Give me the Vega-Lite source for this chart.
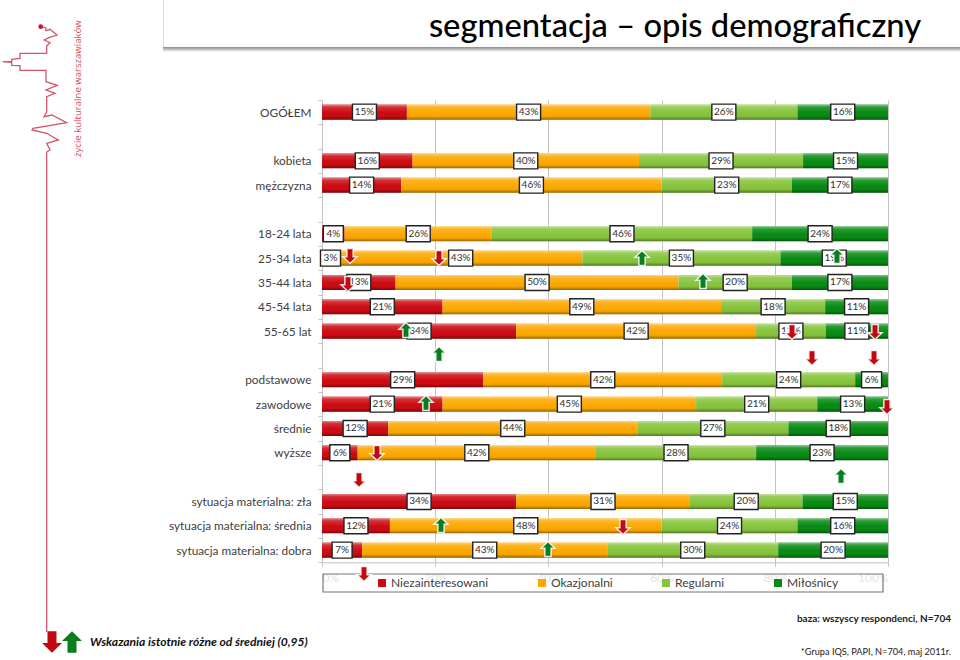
{
"$schema":"https://vega.github.io/schema/vega-lite/v6.json",
"width":566,"height":462.3,"autosize":"none",
"padding":{"left":322,"top":100,"right":72,"bottom":97.7},
"background":"white",
"config":{"view":{"stroke":null},"font":"Lato"},
"datasets":{
"bars":[
{"row":"OGÓŁEM","cat":"Niezainteresowani","rank":1,"value":15,"label":"15%"},{"row":"OGÓŁEM","cat":"Okazjonalni","rank":2,"value":43,"label":"43%"},{"row":"OGÓŁEM","cat":"Regularni","rank":3,"value":26,"label":"26%"},{"row":"OGÓŁEM","cat":"Miłośnicy","rank":4,"value":16,"label":"16%"},
{"row":"kobieta","cat":"Niezainteresowani","rank":1,"value":16,"label":"16%"},{"row":"kobieta","cat":"Okazjonalni","rank":2,"value":40,"label":"40%"},{"row":"kobieta","cat":"Regularni","rank":3,"value":29,"label":"29%"},{"row":"kobieta","cat":"Miłośnicy","rank":4,"value":15,"label":"15%"},
{"row":"mężczyzna","cat":"Niezainteresowani","rank":1,"value":14,"label":"14%"},{"row":"mężczyzna","cat":"Okazjonalni","rank":2,"value":46,"label":"46%"},{"row":"mężczyzna","cat":"Regularni","rank":3,"value":23,"label":"23%"},{"row":"mężczyzna","cat":"Miłośnicy","rank":4,"value":17,"label":"17%"},
{"row":"18-24 lata","cat":"Niezainteresowani","rank":1,"value":4,"label":"4%"},{"row":"18-24 lata","cat":"Okazjonalni","rank":2,"value":26,"label":"26%"},{"row":"18-24 lata","cat":"Regularni","rank":3,"value":46,"label":"46%"},{"row":"18-24 lata","cat":"Miłośnicy","rank":4,"value":24,"label":"24%"},
{"row":"25-34 lata","cat":"Niezainteresowani","rank":1,"value":3,"label":"3%"},{"row":"25-34 lata","cat":"Okazjonalni","rank":2,"value":43,"label":"43%"},{"row":"25-34 lata","cat":"Regularni","rank":3,"value":35,"label":"35%"},{"row":"25-34 lata","cat":"Miłośnicy","rank":4,"value":19,"label":"19%"},
{"row":"35-44 lata","cat":"Niezainteresowani","rank":1,"value":13,"label":"13%"},{"row":"35-44 lata","cat":"Okazjonalni","rank":2,"value":50,"label":"50%"},{"row":"35-44 lata","cat":"Regularni","rank":3,"value":20,"label":"20%"},{"row":"35-44 lata","cat":"Miłośnicy","rank":4,"value":17,"label":"17%"},
{"row":"45-54 lata","cat":"Niezainteresowani","rank":1,"value":21.3,"label":"21%"},{"row":"45-54 lata","cat":"Okazjonalni","rank":2,"value":49.2,"label":"49%"},{"row":"45-54 lata","cat":"Regularni","rank":3,"value":18.4,"label":"18%"},{"row":"45-54 lata","cat":"Miłośnicy","rank":4,"value":11.1,"label":"11%"},
{"row":"55-65 lat","cat":"Niezainteresowani","rank":1,"value":34.3,"label":"34%"},{"row":"55-65 lat","cat":"Okazjonalni","rank":2,"value":42.4,"label":"42%"},{"row":"55-65 lat","cat":"Regularni","rank":3,"value":12.3,"label":"12%"},{"row":"55-65 lat","cat":"Miłośnicy","rank":4,"value":11,"label":"11%"},
{"row":"podstawowe","cat":"Niezainteresowani","rank":1,"value":28.5,"label":"29%"},{"row":"podstawowe","cat":"Okazjonalni","rank":2,"value":42.2,"label":"42%"},{"row":"podstawowe","cat":"Regularni","rank":3,"value":23.5,"label":"24%"},{"row":"podstawowe","cat":"Miłośnicy","rank":4,"value":5.8,"label":"6%"},
{"row":"zawodowe","cat":"Niezainteresowani","rank":1,"value":21.3,"label":"21%"},{"row":"zawodowe","cat":"Okazjonalni","rank":2,"value":44.8,"label":"45%"},{"row":"zawodowe","cat":"Regularni","rank":3,"value":21.4,"label":"21%"},{"row":"zawodowe","cat":"Miłośnicy","rank":4,"value":12.5,"label":"13%"},
{"row":"średnie","cat":"Niezainteresowani","rank":1,"value":11.7,"label":"12%"},{"row":"średnie","cat":"Okazjonalni","rank":2,"value":44,"label":"44%"},{"row":"średnie","cat":"Regularni","rank":3,"value":26.7,"label":"27%"},{"row":"średnie","cat":"Miłośnicy","rank":4,"value":17.6,"label":"18%"},
{"row":"wyższe","cat":"Niezainteresowani","rank":1,"value":6.3,"label":"6%"},{"row":"wyższe","cat":"Okazjonalni","rank":2,"value":42.1,"label":"42%"},{"row":"wyższe","cat":"Regularni","rank":3,"value":28.3,"label":"28%"},{"row":"wyższe","cat":"Miłośnicy","rank":4,"value":23.3,"label":"23%"},
{"row":"sytuacja materialna: zła","cat":"Niezainteresowani","rank":1,"value":34.3,"label":"34%"},{"row":"sytuacja materialna: zła","cat":"Okazjonalni","rank":2,"value":30.7,"label":"31%"},{"row":"sytuacja materialna: zła","cat":"Regularni","rank":3,"value":19.9,"label":"20%"},{"row":"sytuacja materialna: zła","cat":"Miłośnicy","rank":4,"value":15.1,"label":"15%"},
{"row":"sytuacja materialna: średnia","cat":"Niezainteresowani","rank":1,"value":12,"label":"12%"},{"row":"sytuacja materialna: średnia","cat":"Okazjonalni","rank":2,"value":48,"label":"48%"},{"row":"sytuacja materialna: średnia","cat":"Regularni","rank":3,"value":24,"label":"24%"},{"row":"sytuacja materialna: średnia","cat":"Miłośnicy","rank":4,"value":16,"label":"16%"},
{"row":"sytuacja materialna: dobra","cat":"Niezainteresowani","rank":1,"value":7.1,"label":"7%"},{"row":"sytuacja materialna: dobra","cat":"Okazjonalni","rank":2,"value":43.3,"label":"43%"},{"row":"sytuacja materialna: dobra","cat":"Regularni","rank":3,"value":30.2,"label":"30%"},{"row":"sytuacja materialna: dobra","cat":"Miłośnicy","rank":4,"value":19.4,"label":"20%"}
],
"smallDown":[{"px":350,"py":256},{"px":439,"py":258},{"px":348,"py":284},{"px":792,"py":332},{"px":875,"py":332},{"px":812,"py":358},{"px":874,"py":358},{"px":887,"py":407},{"px":377,"py":453},{"px":359,"py":480},{"px":623,"py":527},{"px":364,"py":574}],
"smallUp":[{"px":642,"py":258},{"px":837,"py":256},{"px":703,"py":281},{"px":406,"py":330},{"px":439,"py":354},{"px":426,"py":403},{"px":841,"py":476},{"px":441,"py":525},{"px":548,"py":549}],
"logo":[{"i":1,"px":40.7,"py":26.7},{"i":2,"px":45.7,"py":27.7},{"i":3,"px":46,"py":30.7},{"i":4,"px":50,"py":29.3},{"i":5,"px":57,"py":35},{"i":6,"px":49,"py":37.7},{"i":7,"px":44.3,"py":40},{"i":8,"px":50,"py":42.7},{"i":9,"px":46.7,"py":46},{"i":10,"px":46.7,"py":53.3},{"i":11,"px":20,"py":53.3},{"i":12,"px":20,"py":58.3},{"i":13,"px":11.7,"py":59.3},{"i":14,"px":11.7,"py":61.7},{"i":15,"px":2.7,"py":61.7},{"i":16,"px":11.7,"py":62.3},{"i":17,"px":11.7,"py":65.3},{"i":18,"px":20,"py":65.7},{"i":19,"px":20,"py":70.3},{"i":20,"px":46,"py":70.3},{"i":21,"px":46,"py":81.7},{"i":22,"px":57.3,"py":85.3},{"i":23,"px":46,"py":90},{"i":24,"px":55,"py":93.3},{"i":25,"px":46.7,"py":96.7},{"i":26,"px":46.7,"py":112},{"i":27,"px":44,"py":116.7},{"i":28,"px":52,"py":115},{"i":29,"px":66.7,"py":122.7},{"i":30,"px":33,"py":128.3},{"i":31,"px":32,"py":130},{"i":32,"px":46.7,"py":133.3},{"i":33,"px":58.3,"py":140},{"i":34,"px":46.7,"py":143.3},{"i":35,"px":50,"py":150},{"i":36,"px":46.7,"py":152},{"i":37,"px":46.7,"py":632}]
},
"layer":[
{"data":{"name":"bars"},
 "encoding":{
  "x":{"field":"value","type":"quantitative","stack":"zero","scale":{"domain":[0,100],"nice":false},
   "axis":{"title":null,"values":[0,20,40,60,80,100],"labelExpr":"datum.value+'%'","labelColor":"#e4e4e4","labelFontSize":12,"labelPadding":6,"grid":true,"gridColor":"#c4c4c4","domainColor":"#c4c4c4","tickColor":"#c4c4c4","tickSize":4}},
  "y":{"field":"row","type":"nominal","scale":{"paddingInner":0,"paddingOuter":0,"domain":["OGÓŁEM"," ","kobieta","mężczyzna","  ","18-24 lata","25-34 lata","35-44 lata","45-54 lata","55-65 lat","   ","podstawowe","zawodowe","średnie","wyższe","    ","sytuacja materialna: zła","sytuacja materialna: średnia","sytuacja materialna: dobra"]},
   "axis":{"title":null,"labelFontSize":11.8,"labelColor":"#404040","labelPadding":7,"tickBand":"extent","tickSize":4,"tickColor":"#c4c4c4","domainColor":"#c4c4c4","labelLimit":200}},
  "order":{"field":"rank"}
 },
 "layer":[
  {"mark":{"type":"bar","height":{"band":0.62}},
   "encoding":{"color":{"field":"cat","type":"nominal","scale":{"domain":["Niezainteresowani","Okazjonalni","Regularni","Miłośnicy"],"range":["#cc0a12","#fca800","#86c43c","#078a12"]},
    "legend":{"title":null,"orient":"none","legendX":54,"legendY":477,"direction":"horizontal","columns":4,"columnPadding":47,"symbolType":"square","symbolSize":64,"labelFontSize":12,"labelColor":"#404040","labelOffset":3,"symbolStrokeWidth":0,"padding":0}}}},
  {"mark":{"type":"bar","height":{"band":0.62},"fill":{"gradient":"linear","x1":0,"y1":0,"x2":0,"y2":1,"stops":[{"offset":0,"color":"rgba(255,255,255,0.5)"},{"offset":0.18,"color":"rgba(255,255,255,0.15)"},{"offset":0.55,"color":"rgba(255,255,255,0)"},{"offset":0.8,"color":"rgba(0,0,0,0.05)"},{"offset":1,"color":"rgba(0,0,0,0.4)"}]}},
   "encoding":{"detail":{"field":"cat"}}},
  {"mark":{"type":"point","filled":true,"fill":"white","stroke":"#222222","strokeWidth":1.4,"opacity":1,"size":400},
   "encoding":{"x":{"field":"value","type":"quantitative","stack":"zero","bandPosition":0.5},"detail":{"field":"cat"},
    "shape":{"condition":{"test":"datum.value<9.5","value":"M-1,-0.8H1V0.8H-1Z"},"value":"M-1.2,-0.8H1.2V0.8H-1.2Z"}}},
  {"mark":{"type":"text","fontSize":10,"color":"#303030"},
   "encoding":{"x":{"field":"value","type":"quantitative","stack":"zero","bandPosition":0.5},"detail":{"field":"cat"},"text":{"field":"label"}}}
 ]},
{"encoding":{
  "x":{"field":"px","type":"quantitative","scale":{"domain":[322,888],"nice":false,"zero":false},"axis":null},
  "y":{"field":"py","type":"quantitative","scale":{"domain":[100,562.3],"reverse":true,"nice":false,"zero":false},"axis":null}},
 "layer":[
  {"data":{"values":[{"px":323,"px2":883,"py":574,"py2":592}]},"mark":{"type":"rect","fillOpacity":0,"fill":"white","stroke":"#777777","strokeWidth":1.2},"encoding":{"x2":{"field":"px2"},"y2":{"field":"py2"}}},
  {"data":{"values":[{"px":163,"px2":960,"py":47,"py2":52}]},"mark":{"type":"rect","fill":{"gradient":"linear","x1":0,"y1":0,"x2":0,"y2":1,"stops":[{"offset":0,"color":"#8a8a8a"},{"offset":0.4,"color":"#b8b8b8"},{"offset":1,"color":"#ffffff"}]}},"encoding":{"x2":{"field":"px2"},"y2":{"field":"py2"}}},
  {"data":{"values":[{"px":163,"px2":164,"py":0,"py2":47}]},"mark":{"type":"rect","fill":"#dddddd"},"encoding":{"x2":{"field":"px2"},"y2":{"field":"py2"}}},
  {"data":{"values":[{"px":675,"py":27,"t":"segmentacja – opis demograficzny"}]},"mark":{"type":"text","font":"Lato","fontSize":32.7,"fontWeight":500,"color":"#000000","align":"center","baseline":"middle"},"encoding":{"text":{"field":"t"}}},
  {"data":{"name":"logo"},"mark":{"type":"line","color":"#d2566a","strokeWidth":1.3,"interpolate":"linear"},"encoding":{"order":{"field":"i"}}},
  {"data":{"values":[{"px":40.7,"py":26.7}]},"mark":{"type":"circle","color":"#d0102a","size":22,"opacity":1}},
  {"data":{"values":[{"px":78,"py":157,"t":"życie kulturalne warszawiaków"}]},"mark":{"type":"text","font":"Open Sans","fontSize":9.6,"color":"#d8505a","angle":270,"align":"left","baseline":"middle"},"encoding":{"text":{"field":"t"}}},
  {"data":{"values":[{"px":90,"py":642,"t":"Wskazania istotnie różne od średniej (0,95)"}]},"mark":{"type":"text","font":"Lato","fontSize":12.1,"fontWeight":"bold","fontStyle":"italic","color":"#111111","align":"left","baseline":"middle"},"encoding":{"text":{"field":"t"}}},
  {"data":{"values":[{"px":951,"py":619,"t":"baza: wszyscy respondenci, N=704"}]},"mark":{"type":"text","font":"Lato","fontSize":10,"fontWeight":"bold","color":"#222222","align":"right","baseline":"middle"},"encoding":{"text":{"field":"t"}}},
  {"data":{"values":[{"px":951,"py":652,"t":"*Grupa IQS, PAPI, N=704, maj 2011r."}]},"mark":{"type":"text","font":"Lato","fontSize":9.2,"color":"#222222","align":"right","baseline":"middle"},"encoding":{"text":{"field":"t"}}},
  {"data":{"name":"smallDown"},"mark":{"type":"point","filled":true,"shape":"M-0.45,-1.07H0.45V0.1H1L0,1.07L-1,0.1H-0.45Z","size":196,"fill":"#bf0a10","stroke":"#ffffff","strokeWidth":1.5,"strokeOpacity":0.85,"opacity":1}},
  {"data":{"name":"smallUp"},"mark":{"type":"point","filled":true,"shape":"M-0.45,1.07H0.45V-0.1H1L0,-1.07L-1,-0.1H-0.45Z","size":196,"fill":"#0a7d1e","stroke":"#ffffff","strokeWidth":1.5,"strokeOpacity":0.85,"opacity":1}},
  {"data":{"values":[{"px":52,"py":642}]},"mark":{"type":"point","filled":true,"shape":"M-0.45,-1.07H0.45V0.1H1L0,1.07L-1,0.1H-0.45Z","size":400,"fill":"#bf0a10","opacity":1}},
  {"data":{"values":[{"px":72,"py":642}]},"mark":{"type":"point","filled":true,"shape":"M-0.45,1.07H0.45V-0.1H1L0,-1.07L-1,-0.1H-0.45Z","size":400,"fill":"#0a7d1e","opacity":1}}
 ]}
],
"resolve":{"scale":{"x":"independent","y":"independent"}}
}
